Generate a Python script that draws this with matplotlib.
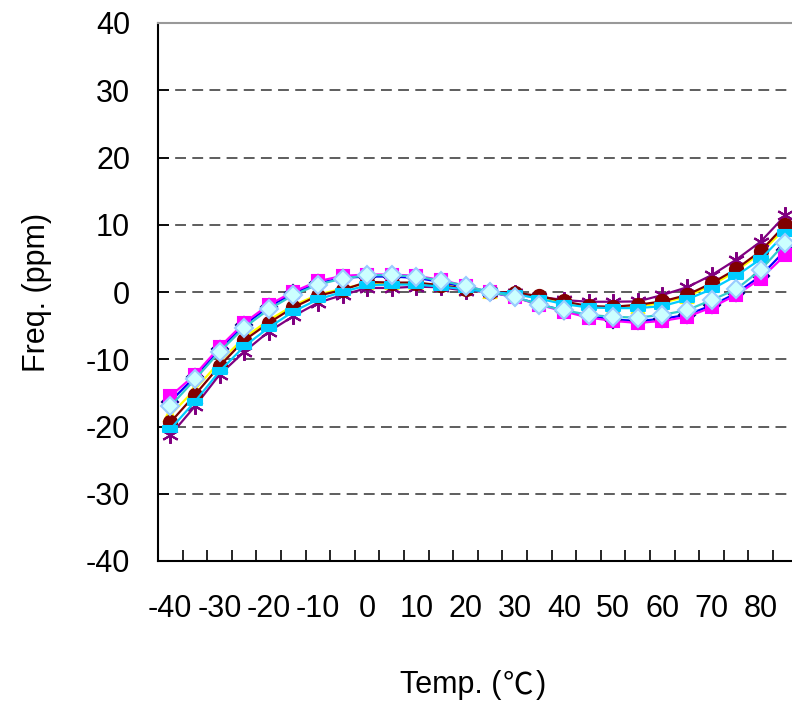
import matplotlib
matplotlib.use("Agg")
import matplotlib.pyplot as plt
from matplotlib.path import Path

plt.rcParams['font.family'] = ['Liberation Sans', 'Noto Sans CJK JP', 'DejaVu Sans']
plt.rcParams['axes.unicode_minus'] = False

# temperature points (deg C) and frequency deviation (ppm) per sample
temps = list(range(-40, 90, 5))

blue_vals = [-16.3, -12.6, -8.5, -4.9, -2.2, -0.2, 1.3, 2.1, 2.3, 2.3, 2.1, 1.5, 0.7,
             0.0, -0.8, -1.8, -2.8, -3.6, -4.1, -4.3, -4.0, -3.4, -2.0, -0.2, 2.4, 6.2]
magenta_vals = [-15.5, -12.3, -8.2, -4.6, -1.9, 0.05, 1.6, 2.4, 2.6, 2.6, 2.4, 1.8, 0.9,
                0.0, -0.8, -1.9, -2.9, -3.8, -4.3, -4.6, -4.3, -3.7, -2.3, -0.45, 2.0, 5.5]
yellow_vals = [-18.3, -14.5, -10.4, -6.8, -4.2, -2.0, -0.4, 0.5, 1.3, 1.3, 1.3, 1.0, 0.5,
               0.0, -0.3, -0.9, -1.6, -2.2, -2.4, -2.2, -1.6, -0.7, 1.0, 3.1, 5.8, 9.5]
purple_vals = [-21.3, -17.0, -12.3, -8.9, -5.9, -3.6, -1.6, -0.45, 0.6, 0.6, 0.8, 0.7, 0.2,
               0.0, -0.1, -0.7, -1.2, -1.45, -1.45, -1.4, -0.45, 0.7, 2.5, 4.8, 7.5, 11.4]
darkred_vals = [-19.4, -15.3, -11.0, -7.2, -4.6, -2.3, -0.55, 0.3, 1.5, 1.4, 1.4, 1.0, 0.5,
                0.0, -0.1, -0.6, -1.4, -2.1, -2.2, -1.9, -1.4, -0.45, 1.3, 3.4, 6.1, 10.0]
skyblue_vals = [-20.4, -16.3, -11.8, -8.1, -5.3, -2.9, -1.1, 0.0, 1.0, 1.1, 1.1, 0.8, 0.4,
                0.0, -0.3, -1.0, -1.8, -2.3, -2.4, -2.4, -2.1, -1.1, 0.4, 2.4, 4.9, 8.7]
cyan_vals = [-17.0, -13.0, -8.9, -5.3, -2.6, -0.45, 1.1, 2.0, 2.5, 2.5, 2.3, 1.7, 0.9,
             0.0, -0.7, -1.9, -2.7, -3.4, -3.7, -3.8, -3.4, -2.7, -1.2, 0.4, 3.3, 7.3]

y_ticks = [-40, -30, -20, -10, 0, 10, 20, 30, 40]

dash_marker = Path([(-1, -0.4), (1, -0.4), (1, 0.4), (-1, 0.4), (-1, -0.4)],
                   [Path.MOVETO, Path.LINETO, Path.LINETO, Path.LINETO, Path.CLOSEPOLY])

series = [
    (blue_vals, '#0000FF', 'D', '#000080', '#000080', 8),
    (magenta_vals, '#FF00FF', 's', '#FF00FF', '#FF00FF', 8.5),
    (yellow_vals, '#FFFF00', '^', '#FFFF00', '#FFFF00', 9),
    (purple_vals, '#800080', (6, 2, 0), '#800080', '#800080', 12),
    (darkred_vals, '#800000', 'o', '#800000', '#800000', 9.5),
    (skyblue_vals, '#00CCFF', dash_marker, '#00CCFF', '#00CCFF', 10),
    (cyan_vals, '#33CCCC', 'D', '#CCFFFF', '#99CCFF', 9.5),
]

fig = plt.figure(figsize=(7.92, 7.04), dpi=100)
ax = fig.add_axes([158 / 792, 1 - 561 / 704, (792 - 158) / 792, (561 - 23) / 704])

idx = list(range(len(temps)))
for vals, lc, mk, fc, ec, ms in series:
    ax.plot(idx, vals, color=lc, lw=1.6, marker=mk, markerfacecolor=fc,
            markeredgecolor=ec, markersize=ms, markeredgewidth=1.5, clip_on=False, zorder=3)

ax.set_ylim(-40, 40)
ax.set_xlim(-0.5, 25.27)

for y in y_ticks[1:-1]:
    ax.axhline(y, color='#505050', lw=1.3, ls=(0, (6, 3.5)), zorder=1)

ax.set_yticks(y_ticks)
ax.set_yticklabels([str(v) for v in y_ticks])
ax.tick_params(axis='y', direction='in', length=8, width=1.2, pad=20, labelsize=22, colors='black')

ax.set_xticks(idx[::2])
ax.set_xticklabels([str(t) for t in temps[::2]])
ax.set_xticks([i - 0.5 for i in idx[1:]], minor=True)
ax.tick_params(axis='x', which='major', length=0, pad=24, labelsize=22)
ax.tick_params(axis='x', which='minor', direction='in', length=8, width=1.2)

ax.spines['right'].set_visible(False)
ax.spines['top'].set_color('#999999')
ax.spines['top'].set_linewidth(1.5)
ax.spines['left'].set_linewidth(1.5)
ax.spines['bottom'].set_linewidth(1.5)

fig.text(37 / 792, 1 - 292 / 704, 'Freq. (ppm)', rotation=90, ha='center', va='center', fontsize=22)

# x label in three pieces so the degree sign uses the CJK glyph like the original
t1 = fig.text(400 / 792, 1 - 685 / 704, 'Temp. (', ha='left', va='center', fontsize=22)
t2 = ax.annotate('\u2103', xy=(1, 0), xycoords=t1, xytext=(1, 0), textcoords='offset points',
                 ha='left', va='bottom', fontsize=22, family=['Noto Sans CJK JP'])
t3 = ax.annotate(')', xy=(1, 0), xycoords=t2, xytext=(2, 0), textcoords='offset points',
                 ha='left', va='bottom', fontsize=22)

fig.savefig('out.png', dpi=100)
